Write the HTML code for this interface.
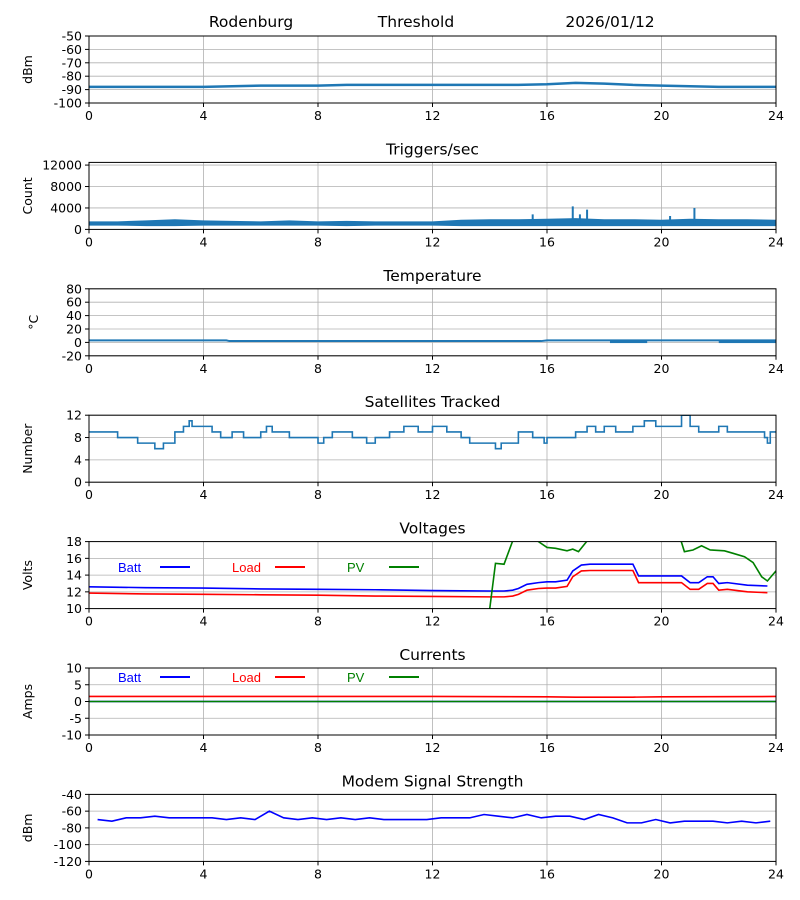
<!DOCTYPE html>
<html><head><meta charset="utf-8">
<style>
html,body{margin:0;padding:0;background:#fff;}
svg{display:block;font-family:"DejaVu Sans","Liberation Sans",sans-serif;}
</style></head>
<body>
<svg id="chart" width="800" height="900" viewBox="0 0 800 900"></svg>
<script>
// ---------- data ----------
const xTicks=[0,4,8,12,16,20,24];
const sigHours=[0,1,2,3,4,5,6,7,8,9,10,11,12,13,14,15,16,17,18,19,20,21,22,23,24];
const sigVals=[-88,-88,-88,-88,-88,-87.5,-87,-87,-87,-86.5,-86.5,-86.5,-86.5,-86.5,-86.5,-86.5,-86,-85,-85.5,-86.5,-87,-87.5,-88,-88,-88];
const sigTicks=[-50,-60,-70,-80,-90,-100];
const trigHours=[0,1,2,3,4,5,6,7,8,9,10,11,12,13,14,15,16,17,18,19,20,21,22,23,24];
const trigLow=[800,800,700,700,800,800,800,800,800,700,800,800,800,700,700,700,700,700,700,700,700,700,700,700,700];
const trigHigh=[1400,1400,1600,1800,1600,1500,1400,1600,1400,1500,1400,1400,1400,1700,1800,1800,1900,2000,1800,1800,1700,1900,1800,1800,1700];
const trigSpikeX=[16.9,17.15,17.4,21.15,20.3,15.5];
const trigSpikeV=[4300,2800,3700,4000,2500,2800];
const trigTicks=[0,4000,8000,12000];
const tempHours=[0,4.8,4.9,15.8,16,18,24];
const tempVals=[3,3,2,2,3,3,3];
const tempSpikeRanges=[[18.2,19.5],[22,24]];
const tempTicks=[-20,0,20,40,60,80];
const satX=[0,1,1.7,2.3,2.6,3,3.3,3.5,3.6,3.8,4.3,4.6,5,5.4,6,6.2,6.4,7,7.4,8,8.2,8.5,9,9.2,9.5,9.7,10,10.5,11,11.5,12,12.5,13,13.3,13.7,14.2,14.4,15,15.5,15.9,16,17,17.4,17.7,18,18.4,19,19.4,19.8,20.7,20.8,21,21.3,22,22.3,23.6,23.7,23.8,24];
const satY=[9,8,7,6,7,9,10,11,10,10,9,8,9,8,9,10,9,8,8,7,8,9,9,8,8,7,8,9,10,9,10,9,8,7,7,6,7,9,8,7,8,9,10,9,10,9,10,11,10,12,12,10,9,10,9,8,7,9,9];
const satTicks=[0,4,8,12];
const voltHours=[0,2,4,6,8,10,12,14,14.5,14.8,15,15.3,15.7,16,16.3,16.7,16.9,17.2,17.5,18,19,19.2,20,20.5,20.7,21,21.3,21.6,21.8,22,22.3,23,23.7];
const battV=[12.6,12.5,12.45,12.35,12.3,12.25,12.15,12.1,12.1,12.2,12.4,12.9,13.1,13.2,13.2,13.4,14.5,15.2,15.3,15.3,15.3,13.9,13.9,13.9,13.9,13.1,13.1,13.8,13.8,13.0,13.1,12.8,12.7];
const loadV=[11.85,11.75,11.7,11.65,11.6,11.5,11.45,11.4,11.4,11.5,11.7,12.2,12.4,12.45,12.45,12.65,13.8,14.5,14.55,14.55,14.55,13.1,13.1,13.1,13.1,12.3,12.3,13.0,13.0,12.2,12.3,12.0,11.9];
const pvHours=[14,14.2,14.5,14.9,15.5,15.7,16,16.3,16.7,16.9,17.1,17.5,20.6,20.8,21.1,21.4,21.7,22.2,22.5,22.9,23.2,23.5,23.7,24];
const pvV=[10,15.4,15.3,19,19,18,17.3,17.2,16.9,17.1,16.8,18.5,19,16.8,17,17.5,17,16.9,16.6,16.2,15.5,13.8,13.3,14.5];
const voltTicks=[10,12,14,16,18];
const curHours=[0,4,8,12,16,17,19,20,24];
const battA=[0,0,0,0,0,0,0,0,0];
const loadA=[1.5,1.5,1.5,1.5,1.4,1.3,1.3,1.4,1.5];
const pvA=[0,0,0,0,0,0,0,0,0];
const curTicks=[-10,-5,0,5,10];
const modemHours=[0.3,0.8,1.3,1.8,2.3,2.8,3.3,3.8,4.3,4.8,5.3,5.8,6.3,6.8,7.3,7.8,8.3,8.8,9.3,9.8,10.3,10.8,11.3,11.8,12.3,12.8,13.3,13.8,14.3,14.8,15.3,15.8,16.3,16.8,17.3,17.8,18.3,18.8,19.3,19.8,20.3,20.8,21.3,21.8,22.3,22.8,23.3,23.8];
const modemV=[-70,-72,-68,-68,-66,-68,-68,-68,-68,-70,-68,-70,-60,-68,-70,-68,-70,-68,-70,-68,-70,-70,-70,-70,-68,-68,-68,-64,-66,-68,-64,-68,-66,-66,-70,-64,-68,-74,-74,-70,-74,-72,-72,-72,-74,-72,-74,-72];
const modemTicks=[-40,-60,-80,-100,-120];

// ---------- layout ----------
const NS="http://www.w3.org/2000/svg";
const svg=document.getElementById('chart');
const L=89,R=776,H=67;
const TF=12.5, TT=15.5;
function mk(tag,attrs,parent,name,inter){
  const e=document.createElementNS(NS,tag);
  for(const k in attrs)e.setAttribute(k,attrs[k]);
  
  
  (parent||svg).appendChild(e);return e;
}
function panel(i,ymin,ymax,yticks,ylabel,title,key){
  const top=36+i*126.4, bot=top+H;
  const g=mk('g',{},svg,key+'-panel',false);
  const X=h=>L+(h/24)*(R-L);
  const Y=v=>bot-(v-ymin)/(ymax-ymin)*H;
  xTicks.forEach(t=>{mk('line',{x1:X(t),x2:X(t),y1:top,y2:bot,stroke:'#b0b0b0','stroke-width':0.8},g,'x-gridline',false);});
  yticks.forEach(t=>{mk('line',{x1:L,x2:R,y1:Y(t),y2:Y(t),stroke:'#b0b0b0','stroke-width':0.8},g,'y-gridline',false);});
  const clipId='clip'+i;
  const cp=mk('clipPath',{id:clipId},g,'clip-region',false);
  mk('rect',{x:L,y:top,width:R-L,height:H},cp,'clip-rect',false);
  const plot=mk('g',{'clip-path':'url(#'+clipId+')'},g,key+'-plot-area',false);
  mk('rect',{x:L,y:top,width:R-L,height:H,fill:'none',stroke:'#000','stroke-width':1},g,'axes-frame',false);
  xTicks.forEach(t=>{
    mk('line',{x1:X(t),x2:X(t),y1:bot,y2:bot+4,stroke:'#000'},g,'x-tick',false);
    const tx=mk('text',{x:X(t),y:bot+17,'text-anchor':'middle','font-size':TF},g,'x-tick-label',false);tx.textContent=t;
  });
  yticks.forEach(t=>{
    mk('line',{x1:L-4,x2:L,y1:Y(t),y2:Y(t),stroke:'#000'},g,'y-tick',false);
    const tx=mk('text',{x:L-7,y:Y(t)+4.5,'text-anchor':'end','font-size':TF},g,'y-tick-label',false);tx.textContent=t;
  });
  const yl=mk('text',{x:0,y:0,transform:`translate(${i==2?38:32},${(top+bot)/2}) rotate(-90)`,'text-anchor':'middle','font-size':TF},g,'y-axis-title',false);yl.textContent=ylabel;
  if(title){const tt=mk('text',{x:(L+R)/2,y:top-8,'text-anchor':'middle','font-size':TT},g,'panel-title',false);tt.textContent=title;}
  return {g,plot,X,Y,top,bot};
}
function line(p,xs,ys,color,name,w){
  const d=xs.map((x,i)=>(i?'L':'M')+p.X(x).toFixed(2)+','+p.Y(ys[i]).toFixed(2)).join(' ');
  mk('path',{d,fill:'none',stroke:color,'stroke-width':w||1.6},p.plot,name,false);
}
function stepLine(p,xs,ys,color,name){
  let d='M'+p.X(xs[0])+','+p.Y(ys[0]);
  for(let i=1;i<xs.length;i++){d+=' L'+p.X(xs[i])+','+p.Y(ys[i-1])+' L'+p.X(xs[i])+','+p.Y(ys[i]);}
  mk('path',{d,fill:'none',stroke:color,'stroke-width':1.6},p.plot,name,false);
}
function legend(p,y){
  const items=[['Batt','blue',118,160],['Load','red',232,275],['PV','green',347,389]];
  items.forEach(([t,c,tx,lx])=>{
    const e=mk('text',{x:tx,y:y+5,'font-size':13,fill:c,'font-family':'Liberation Sans Narrow, Liberation Sans, sans-serif'},p.g,'legend-label-'+t.toLowerCase(),false);e.textContent=t;
    mk('line',{x1:lx,x2:lx+30,y1:y,y2:y,stroke:c,'stroke-width':2},p.g,'legend-swatch-'+t.toLowerCase(),false);
  });
}
const blue='#1f77b4';

const p1=panel(0,-100,-50,sigTicks,'dBm',null,'signal');
[['Rodenburg',251],['Threshold',416],['2026/01/12',610]].forEach(([t,x])=>{const e=mk('text',{x,y:27,'text-anchor':'middle','font-size':TT},svg,'header-'+t.replace(/\W/g,'').toLowerCase(),false);e.textContent=t;});
line(p1,sigHours,sigVals,blue,'signal-line',2.5);

const p2=panel(1,0,12500,trigTicks,'Count','Triggers/sec','triggers');
{
  const d=trigHours.map((h,i)=>(i?'L':'M')+p2.X(h)+','+p2.Y(trigHigh[i])).join(' ')+' '+trigHours.slice().reverse().map((h,j)=>{const i=trigHours.length-1-j;return 'L'+p2.X(h)+','+p2.Y(trigLow[i]);}).join(' ')+'Z';
  mk('path',{d,fill:blue,stroke:blue,'stroke-width':1},p2.plot,'triggers-band',false);
  trigSpikeX.forEach((x,i)=>mk('line',{x1:p2.X(x),x2:p2.X(x),y1:p2.Y(1000),y2:p2.Y(trigSpikeV[i]),stroke:blue,'stroke-width':2},p2.plot,'trigger-spike',false));
}

const p3=panel(2,-20,80,tempTicks,'°C','Temperature','temperature');
line(p3,tempHours,tempVals,blue,'temperature-line',2);
tempSpikeRanges.forEach(r=>mk('rect',{x:p3.X(r[0]),y:p3.Y(3),width:p3.X(r[1])-p3.X(r[0]),height:p3.Y(-1)-p3.Y(3),fill:blue},p3.plot,'temperature-dropouts',false));

const p4=panel(3,0,12,satTicks,'Number','Satellites Tracked','satellites');
stepLine(p4,satX,satY,blue,'satellites-line');

const p5=panel(4,10,18,voltTicks,'Volts','Voltages','voltages');
line(p5,voltHours,battV,'blue','batt-voltage-line');
line(p5,voltHours,loadV,'red','load-voltage-line');
line(p5,pvHours,pvV,'green','pv-voltage-line');
legend(p5,567);

const p6=panel(5,-10,10,curTicks,'Amps','Currents','currents');
line(p6,curHours,battA,'blue','batt-current-line');
line(p6,curHours,loadA,'red','load-current-line');
line(p6,curHours,pvA,'green','pv-current-line');
legend(p6,677);

const p7=panel(6,-120,-40,modemTicks,'dBm','Modem Signal Strength','modem');
line(p7,modemHours,modemV,'blue','modem-signal-line');
</script>
</body></html>
